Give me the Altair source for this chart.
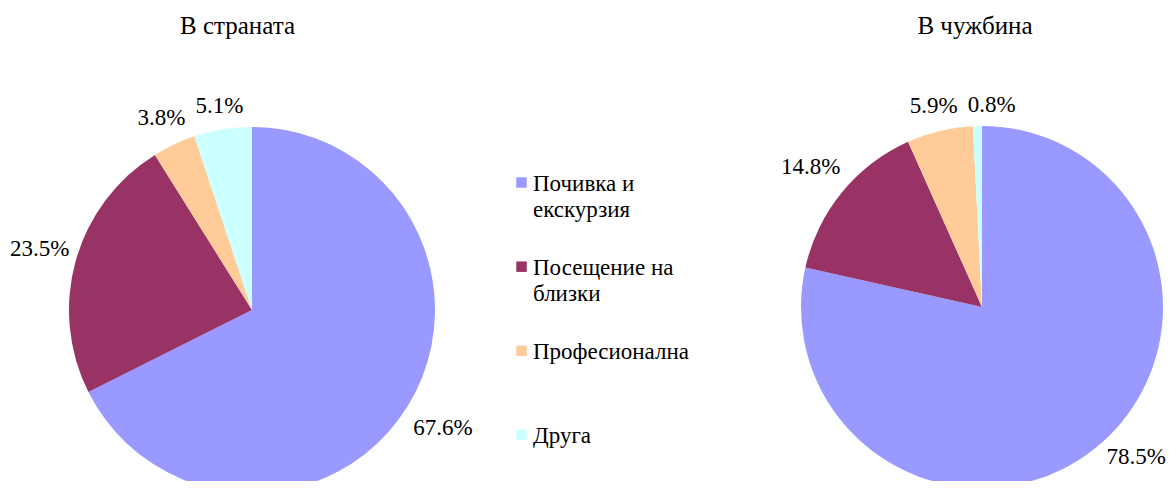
import altair as alt
import pandas as pd

categories = ["Почивка и екскурзия", "Посещение на близки", "Професионална", "Друга"]
legend_labels = ["Почивка и\nекскурзия", "Посещение  на\nблизки", "Професионална", "Друга"]
domestic = [67.6, 23.5, 3.8, 5.1]
abroad = [78.5, 14.8, 5.9, 0.8]
titles = ["В страната", "В чужбина"]
colors = ["#9999FF", "#993366", "#FFCC99", "#CCFFFF"]

FONT = "Liberation Serif, Times New Roman, serif"
FS = 23      # label font size
HH = 8       # half height of a label
GAP = 12     # gap between pie edge and label box
PAD = 10     # min horizontal gap between neighbouring labels
W = 1160     # view width
H = 473      # view height
XMIN = 2     # leftmost allowed label edge
XMAX = 1158  # rightmost allowed label edge

rows = []
for i, c in enumerate(categories):
    rows.append({"pie": titles[0], "cat": c, "order": i, "value": domestic[i]})
    rows.append({"pie": titles[1], "cat": c, "order": i, "value": abroad[i]})
df = pd.DataFrame(rows)
df["label"] = df["value"].map(lambda v: f"{v:.1f}%")

leg = pd.DataFrame({"cat": categories, "text": legend_labels})

color = alt.Color("cat:N", scale=alt.Scale(domain=categories, range=colors), legend=None)


def pie(name, cx, cy, r, ylim, tx, ty):
    base = alt.Chart(df).transform_filter(alt.datum.pie == name)
    arc = base.mark_arc(radius=r).encode(
        theta=alt.Theta("value:Q", stack=True), color=color, order=alt.Order("order:Q"),
        x=alt.value(cx), y=alt.value(cy),
    )
    lab = (
        base.transform_window(cum="sum(value)", sort=[alt.SortField("order")])
        .transform_calculate(mid="2*PI*(datum.cum - datum.value/2)/100")
        .transform_calculate(hw=f"(0.5*(length(datum.label)-2) + 1.083)*{FS}/2")
        .transform_calculate(s="sin(datum.mid)", c="cos(datum.mid)")
        .transform_calculate(d=f"{r}+{GAP}+datum.hw*abs(datum.s)+{HH}*abs(datum.c)")
        .transform_calculate(ly0="-datum.d*datum.c")
        .transform_calculate(ly=f"min(datum.ly0, {ylim})")
        .transform_calculate(
            lx=f"datum.ly0 > {ylim} ? (datum.s < 0 ? -1 : 1)*max(abs(datum.d*datum.s), "
               f"sqrt(max(0, pow({r + GAP}, 2) - pow(datum.ly - {HH}, 2))) + datum.hw) : datum.d*datum.s"
        )
        .transform_window(plx="lag(lx)", phw="lag(hw)", ply="lag(ly)", sort=[alt.SortField("order")])
        .transform_calculate(
            lx1=f"(datum.plx != null && abs(datum.ly - datum.ply) < {2*HH + 6} && "
                f"(datum.lx - datum.hw) < (datum.plx + datum.phw + {PAD}) && datum.lx > datum.plx) "
                f"? datum.plx + datum.phw + {PAD} + datum.hw : datum.lx"
        )
        .transform_calculate(
            lx2=f"min(max(datum.lx1, {XMIN - cx} + datum.hw), {XMAX - cx} - datum.hw)"
        )
        .transform_calculate(ang="atan2(datum.lx2, -datum.ly)",
                             rr="sqrt(datum.lx2*datum.lx2 + datum.ly*datum.ly)")
    )
    txt = lab.mark_text(font=FONT, fontSize=FS, color="black").encode(
        theta=alt.Theta("ang:Q", scale=None, stack=False),
        radius=alt.Radius("rr:Q", scale=None),
        text="label:N",
        x=alt.value(cx), y=alt.value(cy),
    )
    title = alt.Chart(pd.DataFrame({"t": [name]})).mark_text(
        font=FONT, fontSize=25, color="black"
    ).encode(text="t:N", x=alt.value(tx), y=alt.value(ty))
    return [arc, txt, title]


yscale = alt.Scale(domain=categories, range=[174.5, 427], padding=0)
legend_sq = alt.Chart(leg).mark_square(size=110, opacity=1).encode(
    y=alt.Y("cat:N", scale=yscale, axis=None),
    x=alt.value(513.5),
    color=color,
)
legend_tx = alt.Chart(leg).mark_text(
    font=FONT, fontSize=23, align="left", baseline="alphabetic", dy=8,
    lineBreak="\n", lineHeight=26, color="black",
).encode(
    y=alt.Y("cat:N", scale=yscale, axis=None),
    x=alt.value(525),
    text="text:N",
)

layers = (
    pie(titles[0], 244, 302, 183, 147, 229.5, 18)
    + pie(titles[1], 974, 299, 181, 150, 967, 18)
    + [legend_sq, legend_tx]
)

chart = alt.layer(*layers).resolve_scale(theta="independent", radius="independent").properties(
    width=W, height=H, padding=0,
    autosize=alt.AutoSizeParams(type="none"),
).configure_view(stroke=None)

chart.save("out.html", embed_options={"renderer": "svg", "actions": False})
